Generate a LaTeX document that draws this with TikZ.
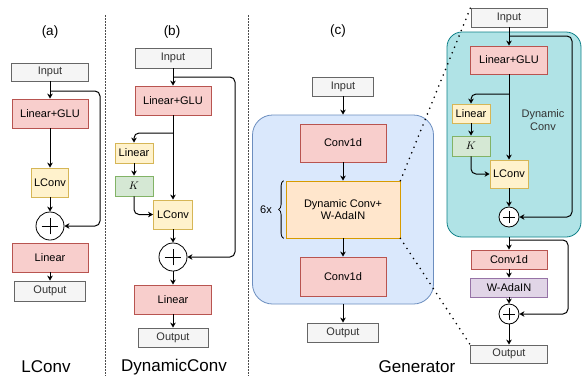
\documentclass[tikz,border=0pt]{standalone}
\usepackage{fontspec}
\setmainfont{Liberation Sans}
\usetikzlibrary{arrows.meta,decorations.pathreplacing}

\definecolor{iofill}{HTML}{F5F5F5}
\definecolor{ioline}{HTML}{666666}
\definecolor{iotext}{HTML}{333333}
\definecolor{redfill}{HTML}{F8CECC}
\definecolor{redline}{HTML}{B85450}
\definecolor{yelfill}{HTML}{FFF2CC}
\definecolor{yelline}{HTML}{D6B656}
\definecolor{grnfill}{HTML}{D5E8D4}
\definecolor{grnline}{HTML}{82B366}
\definecolor{blufill}{HTML}{DAE8FC}
\definecolor{bluline}{HTML}{6C8EBF}
\definecolor{orgfill}{HTML}{FFE6CC}
\definecolor{orgline}{HTML}{D79B00}
\definecolor{purfill}{HTML}{E1D5E7}
\definecolor{purline}{HTML}{9673A6}
\definecolor{tealfill}{HTML}{B0E3E6}
\definecolor{tealline}{HTML}{0E8088}

\begin{document}
\begin{tikzpicture}[x=1pt,y=-1pt,>={Stealth[length=5pt,width=5.5pt,inset=1.5pt]},
  box/.style={draw,line width=0.8pt,inner sep=0pt,align=center,font=\fontsize{11}{12.5}\selectfont},
  iobox/.style={box,draw=ioline,fill=iofill,text=iotext},
  redbox/.style={box,draw=redline,fill=redfill},
  yelbox/.style={box,draw=yelline,fill=yelfill},
  grnbox/.style={box,draw=grnline,fill=grnfill},
  orgbox/.style={box,draw=orgline,fill=orgfill},
  purbox/.style={box,draw=purline,fill=purfill},
  sum/.style={circle,draw,fill=white,line width=0.8pt,inner sep=0pt,minimum size=2*#1,
    path picture={\draw[line width=0.6pt] ([xshift=-0.6*#1]path picture bounding box.center) -- ([xshift=0.6*#1]path picture bounding box.center)
      ([yshift=-0.6*#1]path picture bounding box.center) -- ([yshift=0.6*#1]path picture bounding box.center);}},
  link/.style={->,line width=1pt},
  turn/.style={link,rounded corners=5pt},
  sep/.style={draw=black!70,line width=0.8pt,dash pattern=on 1.5pt off 1.5pt},
  dots/.style={line width=1.8pt,line cap=round,dash pattern=on 0pt off 6pt},
  tag/.style={font=\fontsize{13.5}{15}\selectfont},
  title/.style={font=\fontsize{17}{19}\selectfont}]
\useasboundingbox (0,0) rectangle (582,376);

% separators
\draw[sep] (105,15) -- (105,376);
\draw[sep] (248,15) -- (248,376);

% (a) LConv
\node[tag] (taga) at (50,32) {(a)};
\node[iobox,minimum width=77,minimum height=18] (ina) at (50,72) {Input};
\node[redbox,minimum width=76,minimum height=29] (glua) at (50,113.5) {Linear+GLU};
\node[yelbox,minimum width=37,minimum height=29] (lca) at (50,182.5) {LConv};
\node[sum=14] (adda) at (50,226) {};
\node[redbox,minimum width=76,minimum height=29] (lina) at (50,257.5) {Linear};
\node[iobox,minimum width=71,minimum height=20] (outa) at (50,291) {Output};
\node[title] (tita) at (46,367) {LConv};
\coordinate (sa) at (50,91);
\draw[link] (ina) -- (glua);
\draw[turn] (sa) -- ++(50,0) |- (adda);
\draw[link] (glua) -- (lca);
\draw[link] (lca) -- (adda);
\draw[link] (lina) -- (outa);

% (b) DynamicConv
\node[tag] (tagb) at (172,32) {(b)};
\node[iobox,minimum width=76,minimum height=20] (inb) at (173,58) {Input};
\node[redbox,minimum width=76,minimum height=29] (glub) at (173,100.5) {Linear+GLU};
\node[yelbox,minimum width=38,minimum height=20] (linkb) at (134,153) {Linear};
\node[grnbox,minimum width=38,minimum height=20] (kb) at (134,186) {$K$};
\node[yelbox,minimum width=39,minimum height=29] (lcb) at (173,214.5) {LConv};
\node[sum=14] (addb) at (173,257) {};
\node[redbox,minimum width=77,minimum height=29] (linb) at (173,299.5) {Linear};
\node[iobox,minimum width=70,minimum height=19] (outb) at (173,337.5) {Output};
\node[title] (titb) at (174,367) {DynamicConv};
\coordinate (sb) at (173,77);
\coordinate (tb) at (173,133);
\draw[link] (inb) -- (glub);
\draw[turn] (sb) -- ++(62,0) |- (addb);
\draw[link] (glub) -- (lcb);
\draw[turn] (tb) -| (linkb);
\draw[link] (linkb) -- (kb);
\draw[turn] (kb) |- (lcb);
\draw[link] (lcb) -- (addb);
\draw[link] (addb) -- (linb);
\draw[link] (linb) -- (outb);

% (c) Generator
\node[tag] (tagc) at (338,31) {(c)};
\node[draw=bluline,fill=blufill,line width=0.8pt,rounded corners=20pt,minimum width=181,minimum height=189] (gen) at (343,209.5) {};
\node[iobox,minimum width=61,minimum height=19] (inc) at (343,86.5) {Input};
\node[redbox,minimum width=86,minimum height=38] (cva) at (343,143) {Conv1d};
\node[orgbox,minimum width=114,minimum height=57] (dyn) at (343,209.5) {Dynamic Conv+\\W-AdaIN};
\node[redbox,minimum width=86,minimum height=39] (cvb) at (343,276.5) {Conv1d};
\node[iobox,minimum width=71,minimum height=19] (outc) at (343,332.5) {Output};
\node[title] (titc) at (417,367) {Generator};
\draw[decorate,decoration={brace,amplitude=5pt},line width=0.8pt] ([xshift=-2pt]dyn.south west) -- ([xshift=-2pt]dyn.north west);
\node[font=\fontsize{11}{12.5}\selectfont] (rep) at (266,210) {6x};
\draw[link] (inc) -- (gen);
\draw[link] (cva) -- (dyn);
\draw[link] (dyn) -- (cvb);
\draw[link] (gen) -- (outc);

% zoomed block
\node[draw=tealline,fill=tealfill,line width=0.8pt,rounded corners=15pt,minimum width=134,minimum height=205] (dconv) at (514,134.5) {};
\node[iobox,minimum width=76,minimum height=19] (ind) at (509,17.5) {Input};
\node[redbox,minimum width=77,minimum height=28] (glud) at (509,60) {Linear+GLU};
\node[yelbox,minimum width=38,minimum height=19] (linkd) at (471,113.5) {Linear};
\node[grnbox,minimum width=38,minimum height=20] (kd) at (471,146) {$K$};
\node[yelbox,minimum width=38,minimum height=28] (lcd) at (509,174) {LConv};
\node[sum=10] (addd) at (509,217) {};
\node[font=\fontsize{11}{12.5}\selectfont,align=center,text=iotext] (dname) at (543,120) {Dynamic\\Conv};
\node[redbox,minimum width=76,minimum height=19] (cvd) at (509,259.5) {Conv1d};
\node[purbox,minimum width=77,minimum height=19] (wad) at (509,287.5) {W-AdaIN};
\node[sum=10] (adde) at (509,314) {};
\node[iobox,minimum width=77,minimum height=18] (outd) at (509,354) {Output};
\coordinate (sd) at (509,36);
\coordinate (td) at (509,94);
\coordinate (se) at (509,240);
\draw[link] (ind) -- (glud);
\draw[turn] (sd) -- ++(63,0) |- (addd);
\draw[link] (glud) -- (lcd);
\draw[turn] (td) -| (linkd);
\draw[link] (linkd) -- (kd);
\draw[turn] (kd) |- (lcd);
\draw[link] (lcd) -- (addd);
\draw[link] (dconv.south -| cvd) -- (cvd);
\draw[turn] (se) -- ++(59,0) |- (adde);
\draw[link] (cvd) -- (wad);
\draw[link] (wad) -- (adde);
\draw[link] (adde) -- (outd);

% zoom lines
\draw[dots] (dyn.north east) -- (ind.north west);
\draw[dots] (dyn.south east) -- (outd.north west);
\end{tikzpicture}
\end{document}
